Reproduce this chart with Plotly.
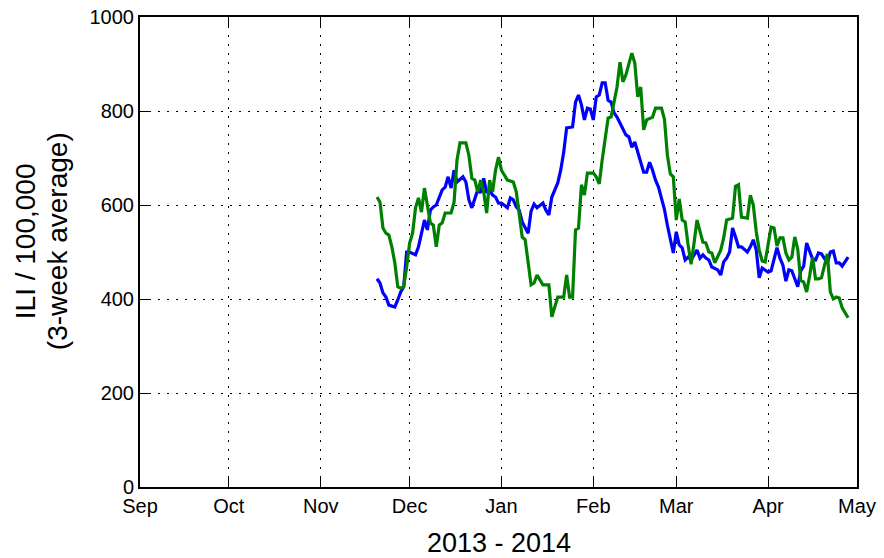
import plotly.graph_objects as go

blue_dates = [
    "2013-11-20", "2013-11-21", "2013-11-22", "2013-11-23", "2013-11-24", "2013-11-26", "2013-11-27",
    "2013-11-28", "2013-11-29", "2013-11-30", "2013-12-01", "2013-12-03", "2013-12-04", "2013-12-05",
    "2013-12-06", "2013-12-07", "2013-12-08", "2013-12-09", "2013-12-10", "2013-12-12", "2013-12-13",
    "2013-12-14", "2013-12-15", "2013-12-16", "2013-12-17", "2013-12-19", "2013-12-20", "2013-12-21",
    "2013-12-22", "2013-12-24", "2013-12-25", "2013-12-26", "2013-12-27", "2013-12-28", "2013-12-29",
    "2013-12-30", "2013-12-31", "2014-01-01", "2014-01-03", "2014-01-04", "2014-01-05", "2014-01-06",
    "2014-01-07", "2014-01-08", "2014-01-09", "2014-01-10", "2014-01-11", "2014-01-12", "2014-01-13",
    "2014-01-15", "2014-01-16", "2014-01-17", "2014-01-18", "2014-01-20", "2014-01-21", "2014-01-22",
    "2014-01-23", "2014-01-25", "2014-01-26", "2014-01-27", "2014-01-28", "2014-01-29", "2014-01-30",
    "2014-01-31", "2014-02-01", "2014-02-02", "2014-02-03", "2014-02-04", "2014-02-05", "2014-02-06",
    "2014-02-07", "2014-02-08", "2014-02-09", "2014-02-11", "2014-02-12", "2014-02-13", "2014-02-14",
    "2014-02-15", "2014-02-16", "2014-02-17", "2014-02-18", "2014-02-19", "2014-02-20", "2014-02-21",
    "2014-02-22", "2014-02-23", "2014-02-24", "2014-02-25", "2014-02-26", "2014-02-27", "2014-02-28",
    "2014-03-01", "2014-03-02", "2014-03-03", "2014-03-04", "2014-03-05", "2014-03-06", "2014-03-08",
    "2014-03-09", "2014-03-10", "2014-03-11", "2014-03-12", "2014-03-13", "2014-03-15", "2014-03-16",
    "2014-03-17", "2014-03-18", "2014-03-19", "2014-03-20", "2014-03-21", "2014-03-22", "2014-03-23",
    "2014-03-25", "2014-03-26", "2014-03-27", "2014-03-28", "2014-03-29", "2014-03-30", "2014-04-01",
    "2014-04-02", "2014-04-03", "2014-04-04", "2014-04-05", "2014-04-06", "2014-04-07", "2014-04-08",
    "2014-04-09", "2014-04-11", "2014-04-12", "2014-04-13", "2014-04-14", "2014-04-15", "2014-04-16",
    "2014-04-17", "2014-04-18", "2014-04-19", "2014-04-21", "2014-04-22", "2014-04-23", "2014-04-24",
    "2014-04-25", "2014-04-26", "2014-04-28",
]
blue_values = [
    443, 434, 413, 404, 387, 383, 398,
    415, 426, 500, 500, 494, 511, 540,
    568, 547, 589, 596, 600, 632, 638,
    660, 636, 674, 649, 660, 649, 611,
    594, 632, 626, 657, 626, 632, 621,
    617, 604, 604, 594, 615, 611, 596,
    589, 564, 551, 540, 587, 602, 594,
    604, 589, 579, 617, 647, 674, 712,
    764, 766, 819, 834, 813, 781, 806,
    804, 781, 830, 834, 860, 860, 823,
    819, 796, 787, 764, 749, 745, 723,
    734, 711, 691, 670, 670, 691, 674,
    653, 638, 615, 591, 557, 526, 498,
    543, 515, 509, 483, 489, 483, 504,
    487, 494, 487, 483, 468, 462, 451,
    479, 487, 500, 551, 532, 511, 511,
    500, 511, 526, 504, 445, 466, 457,
    460, 483, 509, 487, 472, 438, 462,
    460, 426, 460, 470, 519, 504, 485,
    483, 498, 496, 477, 500, 502, 477,
    477, 470, 489,
]

green_dates = [
    "2013-11-20", "2013-11-21", "2013-11-22", "2013-11-23", "2013-11-24", "2013-11-25", "2013-11-26",
    "2013-11-27", "2013-11-28", "2013-11-29", "2013-11-30", "2013-12-01", "2013-12-02", "2013-12-03",
    "2013-12-04", "2013-12-05", "2013-12-06", "2013-12-07", "2013-12-08", "2013-12-09", "2013-12-10",
    "2013-12-11", "2013-12-12", "2013-12-13", "2013-12-15", "2013-12-16", "2013-12-17", "2013-12-18",
    "2013-12-20", "2013-12-21", "2013-12-22", "2013-12-23", "2013-12-24", "2013-12-25", "2013-12-26",
    "2013-12-27", "2013-12-28", "2013-12-29", "2013-12-30", "2013-12-31", "2014-01-01", "2014-01-03",
    "2014-01-05", "2014-01-06", "2014-01-07", "2014-01-08", "2014-01-09", "2014-01-10", "2014-01-11",
    "2014-01-12", "2014-01-13", "2014-01-15", "2014-01-17", "2014-01-18", "2014-01-20", "2014-01-22",
    "2014-01-23", "2014-01-24", "2014-01-25", "2014-01-26", "2014-01-27", "2014-01-28", "2014-01-29",
    "2014-01-30", "2014-01-31", "2014-02-01", "2014-02-02", "2014-02-03", "2014-02-04", "2014-02-05",
    "2014-02-06", "2014-02-07", "2014-02-09", "2014-02-10", "2014-02-11", "2014-02-12", "2014-02-13",
    "2014-02-14", "2014-02-15", "2014-02-16", "2014-02-17", "2014-02-18", "2014-02-19", "2014-02-21",
    "2014-02-22", "2014-02-23", "2014-02-24", "2014-02-25", "2014-02-26", "2014-02-27", "2014-02-28",
    "2014-03-01", "2014-03-02", "2014-03-03", "2014-03-04", "2014-03-05", "2014-03-06", "2014-03-07",
    "2014-03-08", "2014-03-10", "2014-03-11", "2014-03-12", "2014-03-13", "2014-03-14", "2014-03-16",
    "2014-03-17", "2014-03-18", "2014-03-20", "2014-03-21", "2014-03-22", "2014-03-23", "2014-03-25",
    "2014-03-26", "2014-03-27", "2014-03-28", "2014-03-29", "2014-03-30", "2014-03-31", "2014-04-01",
    "2014-04-02", "2014-04-03", "2014-04-04", "2014-04-05", "2014-04-06", "2014-04-07", "2014-04-08",
    "2014-04-09", "2014-04-10", "2014-04-11", "2014-04-12", "2014-04-13", "2014-04-14", "2014-04-15",
    "2014-04-16", "2014-04-17", "2014-04-18", "2014-04-19", "2014-04-20", "2014-04-21", "2014-04-22",
    "2014-04-23", "2014-04-24", "2014-04-25", "2014-04-26", "2014-04-28",
]
green_values = [
    617, 606, 551, 540, 536, 511, 477,
    426, 423, 426, 468, 519, 540, 594,
    615, 585, 636, 596, 562, 557, 511,
    557, 562, 583, 583, 606, 696, 732,
    732, 706, 657, 653, 628, 653, 628,
    583, 653, 628, 674, 702, 674, 653,
    649, 628, 574, 532, 526, 477, 430,
    434, 451, 430, 430, 362, 404, 404,
    451, 404, 404, 547, 551, 643, 621,
    668, 668, 668, 660, 645, 696, 745,
    785, 787, 851, 904, 862, 877, 902,
    923, 902, 830, 851, 760, 781, 787,
    806, 806, 806, 783, 706, 666, 660,
    568, 613, 568, 564, 515, 474, 519,
    568, 521, 519, 500, 498, 477, 504,
    530, 568, 572, 640, 643, 574, 572,
    621, 600, 543, 504, 481, 479, 519,
    553, 551, 513, 530, 530, 498, 483,
    489, 532, 506, 440, 436, 415, 449,
    489, 443, 443, 445, 470, 496, 415,
    400, 404, 402, 381, 360,
]

x_tick_dates = ["2013-09-01", "2013-10-01", "2013-11-01", "2013-12-01", "2014-01-01",
                "2014-02-01", "2014-03-01", "2014-04-01", "2014-05-01"]
x_tick_labels = ["Sep", "Oct", "Nov", "Dec", "Jan", "Feb", "Mar", "Apr", "May"]
y_ticks = [0, 200, 400, 600, 800, 1000]
x_title = "2013 - 2014"
y_title_lines = ["ILI / 100,000", "(3-week average)"]

FONT = "Liberation Sans, Arial, sans-serif"

fig = go.Figure()
fig.add_trace(go.Scatter(x=blue_dates, y=blue_values, mode="lines",
                         line=dict(color="#0000ff", width=3.2), showlegend=False))
fig.add_trace(go.Scatter(x=green_dates, y=green_values, mode="lines",
                         line=dict(color="#008000", width=3.2), showlegend=False))

axis_common = dict(
    showline=True, linecolor="black", linewidth=2, mirror="ticks",
    ticks="inside", ticklen=9, tickwidth=1.2, tickcolor="black",
    showgrid=True, gridcolor="black", gridwidth=1, griddash="2px,7px",
    zeroline=False, automargin=False,
    tickfont=dict(family=FONT, size=20, color="black"),
)

fig.update_xaxes(
    type="date", range=["2013-09-01", "2014-05-01"],
    tickmode="array", tickvals=x_tick_dates, ticktext=x_tick_labels,
    **axis_common,
)
fig.update_yaxes(
    range=[0, 1000], tickmode="array", tickvals=y_ticks,
    **axis_common,
)

fig.add_annotation(text=x_title, xref="paper", yref="paper", x=0.5, y=-0.12,
                   xanchor="center", yanchor="middle", showarrow=False,
                   font=dict(family=FONT, size=27, color="black"))
for line_text, xpos in zip(y_title_lines, [-0.1604, -0.1158]):
    fig.add_annotation(text=line_text, xref="paper", yref="paper", x=xpos, y=0.523,
                       xanchor="center", yanchor="middle", showarrow=False, textangle=-90,
                       font=dict(family=FONT, size=28, color="black"))

fig.update_layout(
    width=884, height=558,
    margin=dict(l=140, r=27, t=17, b=71),
    plot_bgcolor="white", paper_bgcolor="white",
    font=dict(family=FONT, color="black"),
)

fig.write_html("out.html", config={"displayModeBar": False},
               post_script="document.body.style.margin='0';")
